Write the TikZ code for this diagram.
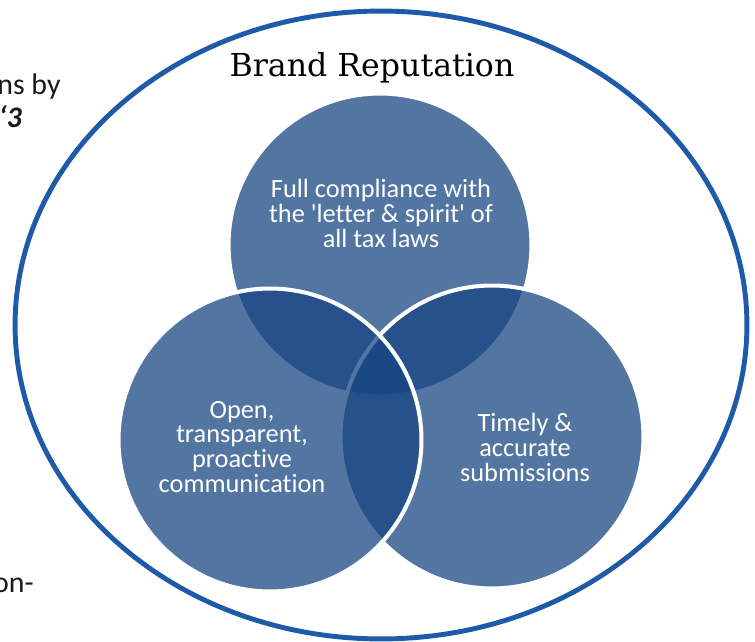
\documentclass[tikz,border=0pt]{standalone}
\usepackage{fontspec}
\setmainfont{Carlito}[Ligatures={NoCommon}]
\newfontfamily\headfont{DejaVu Serif}
\usetikzlibrary{shapes.geometric}
\definecolor{vennblue}{RGB}{22,69,130}
\definecolor{rimblue}{RGB}{31,90,168}
\definecolor{inktext}{RGB}{26,26,26}

\begin{document}
\begin{tikzpicture}[x=0.02cm, y=-0.02cm,
    venn/.style={circle, minimum size=6.06cm, fill=vennblue, fill opacity=0.74, draw=white, line width=2.3pt},
    vlabel/.style={align=center, text=white, font=\fontsize{15}{14.2}\selectfont},
    cut/.style={text=inktext, font=\fontsize{17}{20}\selectfont}]
  \useasboundingbox (0,0) rectangle (755,642);
  %Outer ring:
  \node[ellipse, draw=rimblue, line width=2.8pt, minimum width=14.64cm, minimum height=12.56cm] (reputation) at (381,325) {};
  \node[anchor=base, font=\headfont\fontsize{18}{20}\selectfont] (brand) at (372,77) {Brand Reputation};
  %Circles:
  \node[venn] (compliance) at (380,245) {};
  \node[venn] (timely) at (492,437) {};
  \node[venn] (open) at (270,440) {};
  %Texts:
  \node[vlabel] (complianceText) at (381,213) {Full compliance with\\the \textquotesingle letter \& spirit\textquotesingle{} of\\all tax laws};
  \node[vlabel] (openText) at (242,447) {Open,\\transparent,\\proactive\\communication};
  \node[vlabel] (timelyText) at (525,447) {Timely \&\\accurate\\submissions};
  %Cut-off text at the edge:
  \node[cut, anchor=base west, inner sep=0pt] (leftA) at (-3,95) {ns by};
  \node[cut, anchor=base east, font=\fontsize{17}{20}\selectfont\bfseries\itshape] (leftB) at (28,128) {‘3};
  \node[cut, anchor=base east] (leftC) at (40,592) {on-};
\end{tikzpicture}
\end{document}
